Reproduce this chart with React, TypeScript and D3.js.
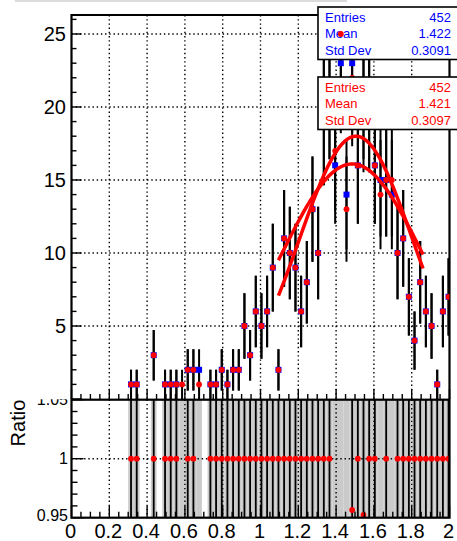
import * as React from "react";
import * as d3 from "d3";

// histogram binning: bins of 0.03 starting at 0
const binWidth = 0.03;

// h1 (blue squares) counts per bin, bin 0 = [0, 0.03)
const countsBlue = [
  0, 0, 0, 0, 0, 0, 0, 0, 0, 0,
  1, 1, 0, 0, 3, 0, 1, 1, 1, 0,
  2, 2, 2, 0, 1, 1, 2, 1, 2, 2,
  5, 3, 6, 5, 6, 9, 2, 11, 10, 9,
  6, 8, 13, 10, 19, 21, 16, 23, 14, 23,
  16, 21, 20, 16, 15, 15, 14, 10, 11, 7,
  4, 8, 6, 5, 1, 6, 7,
];

// h2 (red circles) counts per bin
const countsRed = [
  0, 0, 0, 0, 0, 0, 0, 0, 0, 0,
  1, 1, 0, 0, 3, 0, 1, 1, 1, 1,
  2, 2, 1, 0, 1, 1, 2, 1, 2, 2,
  5, 3, 6, 5, 6, 9, 2, 11, 10, 9,
  6, 8, 13, 10, 19, 21, 17, 25, 13, 22,
  16, 20, 20, 16, 14, 15, 15, 10, 11, 7,
  4, 8, 6, 5, 1, 6, 7,
];

const statsBlue = [
  ["Entries", "452"],
  ["Mean", "1.422"],
  ["Std Dev", "0.3091"],
];
const statsRed = [
  ["Entries", "452"],
  ["Mean", "1.421"],
  ["Std Dev", "0.3097"],
];

// gaussian fits: amplitude, mean, sigma
const fitAmp = [18.0, 16.1];
const fitMean = [1.505, 1.485];
const fitSigma = [0.3, 0.38];
const fitRange = [1.095, 1.86];

const xTickLabels = ["0", "0.2", "0.4", "0.6", "0.8", "1", "1.2", "1.4", "1.6", "1.8", "2"];
const yTickLabels = ["5", "10", "15", "20", "25"];
const ratioTickLabels = ["0.95", "1", "1.05"];

const W = 457;
const H = 541;
const X0 = 71.5;
const X1 = 449.5;
const TOP0 = 15;
const TOP1 = 399;
const RAT0 = 399.7;
const RAT1 = 517.7;
const FONT = "'Liberation Sans', Arial, sans-serif";

const x = d3.scaleLinear().domain([0, 2]).range([X0, X1]);
const yTop = d3.scaleLinear().domain([0, 26.3]).range([TOP1, TOP0]);
const yRat = d3.scaleLinear().domain([0.95, 1.05]).range([RAT1, RAT0]);

const grid = { stroke: "#000", strokeWidth: 1.4, strokeDasharray: "1.4 2.8" };
const center = (i: number) => (i + 0.5) * binWidth;

function StatsBox({ y, rows, color }: { y: number; rows: string[][]; color: string }) {
  return (
    <g>
      <rect x={318} y={y} width={150} height={52.5} fill="#fff" stroke="#000" strokeWidth={1.6} />
      {rows.map((r, i) => (
        <g key={i} fontFamily={FONT} fontSize={13} fill={color}>
          <text x={325} y={y + 14.5 + i * 16.6}>{r[0]}</text>
          <text x={451} y={y + 14.5 + i * 16.6} textAnchor="end">{r[1]}</text>
        </g>
      ))}
    </g>
  );
}

export default function App() {
  const fitLine = d3
    .line<number>()
    .x((d) => x(d))
    .curve(d3.curveLinear);
  const fitXs = d3.range(fitRange[0], fitRange[1] + 1e-9, (fitRange[1] - fitRange[0]) / 100);

  const errBars = (counts: number[]) =>
    counts.map((v, i) =>
      v > 0 ? (
        <line
          key={i}
          x1={x(center(i))}
          x2={x(center(i))}
          y1={yTop(Math.max(0, v - Math.sqrt(v)))}
          y2={yTop(v + Math.sqrt(v))}
          stroke="#000"
          strokeWidth={2}
        />
      ) : null
    );

  const ratios = countsBlue.map((b, i) => {
    const r = countsRed[i];
    if (b <= 0 || r <= 0) return null;
    const v = r / b;
    return { i, v, e: v * Math.sqrt(1 / r + 1 / b) };
  });

  const xMajor = d3.range(0, 2.0001, 0.2);
  const xMinor = d3.range(0, 2.0001, 0.05);
  const yMajor = d3.range(0, 26.3, 5);
  const yMinor = d3.range(0, 26.3, 1);
  const rMajor = [0.95, 1, 1.05];
  const rMinor = d3.range(0.95, 1.0501, 0.01);

  return (
    <svg width={W} height={H} style={{ position: "absolute", left: 0, top: 0, background: "#fff" }}>
      <defs>
        <clipPath id="clipTop">
          <rect x={X0} y={TOP0} width={X1 - X0} height={TOP1 - TOP0} />
        </clipPath>
        <clipPath id="clipRat">
          <rect x={X0} y={RAT0} width={X1 - X0} height={RAT1 - RAT0} />
        </clipPath>
        <clipPath id="clipRatLab">
          <rect x={0} y={RAT0 - 0.5} width={X0} height={H} />
        </clipPath>
      </defs>
      <rect width={W} height={H} fill="#fff" />
      <line x1={15} x2={347} y1={1} y2={1} stroke="#cfcfcf" strokeWidth={1.5} />

      {/* ---------- upper pad ---------- */}
      <g>
        {xMajor.slice(1, -1).map((t, i) => (
          <line key={"gx" + i} x1={x(t)} x2={x(t)} y1={TOP0} y2={TOP1} {...grid} />
        ))}
        {yMajor.slice(1).map((t, i) => (
          <line key={"gy" + i} x1={X0} x2={X1} y1={yTop(t)} y2={yTop(t)} {...grid} />
        ))}
      </g>
      <g clipPath="url(#clipTop)">
        {errBars(countsBlue)}
        {errBars(countsRed)}
        {countsBlue.map((v, i) =>
          v > 0 ? (
            <rect key={i} x={x(center(i)) - 3} y={yTop(v) - 3} width={6} height={6} fill="#0000ff" />
          ) : null
        )}
      </g>

      {/* upper pad ticks and frame (under the stats boxes) */}
      <g stroke="#000" strokeWidth={1.4}>
        {yMinor.map((t, i) => (
          <line key={"ym" + i} x1={X0} x2={X0 + (t % 5 === 0 ? 10 : 5)} y1={yTop(t)} y2={yTop(t)} />
        ))}
        {xMinor.map((t, i) => (
          <line
            key={"xm" + i}
            x1={x(t)}
            x2={x(t)}
            y1={TOP1}
            y2={TOP1 - (i % 4 === 0 ? 10 : 5)}
          />
        ))}
      </g>
      <path
        d={`M${X0},${TOP1}V${TOP0}H${X1}V${TOP1}`}
        fill="none"
        stroke="#000"
        strokeWidth={2.2}
      />

      <StatsBox y={7} rows={statsBlue} color="#0000ff" />
      <g clipPath="url(#clipTop)">
        {countsRed.map((v, i) =>
          v > 0 ? <circle key={i} cx={x(center(i))} cy={yTop(v)} r={2.9} fill="#ff0000" /> : null
        )}
        {fitAmp.map((a, k) => (
          <path
            key={k}
            d={
              fitLine.y((d) =>
                yTop(a * Math.exp(-((d - fitMean[k]) ** 2) / (2 * fitSigma[k] ** 2)))
              )(fitXs) || ""
            }
            fill="none"
            stroke="#ff0000"
            strokeWidth={3.5}
          />
        ))}
      </g>
      <StatsBox y={77} rows={statsRed} color="#ff0000" />

      <g fontFamily={FONT} fontSize={20} fill="#000" textAnchor="end">
        {yTickLabels.map((l, i) => (
          <text key={i} x={66} y={yTop(yMajor[i + 1])} dy="0.36em">
            {l}
          </text>
        ))}
      </g>

      {/* ---------- ratio pad ---------- */}
      <g clipPath="url(#clipRat)">
        {countsBlue.map((b, i) => {
          const n = Math.max(b, countsRed[i]);
          if (n <= 0) return null;
          const e = 1 / Math.sqrt(n);
          return (
            <rect
              key={i}
              x={x(i * binWidth)}
              width={x((i + 1) * binWidth) - x(i * binWidth)}
              y={yRat(1 + e)}
              height={yRat(1 - e) - yRat(1 + e)}
              fill="#cacaca"
            />
          );
        })}
        {xMajor.slice(1, -1).map((t, i) => (
          <line key={"rgx" + i} x1={x(t)} x2={x(t)} y1={RAT0} y2={RAT1} {...grid} />
        ))}
        <line x1={X0} x2={X1} y1={yRat(1)} y2={yRat(1)} {...grid} />
        {ratios.map((r) =>
          r && r.v >= 0.95 && r.v <= 1.05 ? (
            <g key={r.i}>
              <line
                x1={x(center(r.i))}
                x2={x(center(r.i))}
                y1={yRat(r.v - r.e)}
                y2={yRat(r.v + r.e)}
                stroke="#000"
                strokeWidth={1.8}
              />
              <circle cx={x(center(r.i))} cy={yRat(r.v)} r={2.9} fill="#ff0000" />
            </g>
          ) : null
        )}
      </g>
      <g stroke="#000" strokeWidth={1.4}>
        {rMinor.map((t, i) => (
          <line key={"rm" + i} x1={X0} x2={X0 + (i % 5 === 0 ? 12 : 6)} y1={yRat(t)} y2={yRat(t)} />
        ))}
        {xMinor.map((t, i) => (
          <line
            key={"rxm" + i}
            x1={x(t)}
            x2={x(t)}
            y1={RAT1}
            y2={RAT1 - (i % 4 === 0 ? 12 : 6)}
          />
        ))}
      </g>
      <rect x={X0} y={RAT0} width={X1 - X0} height={RAT1 - RAT0} fill="none" stroke="#000" strokeWidth={2.2} />
      <g fontFamily={FONT} fontSize={16} fill="#000" textAnchor="end" clipPath="url(#clipRatLab)">
        {ratioTickLabels.map((l, i) => (
          <text key={i} x={68} y={yRat(rMajor[i])} dy={i === 0 ? "0.2em" : "0.36em"}>
            {l}
          </text>
        ))}
      </g>
      <g fontFamily={FONT} fontSize={20} fill="#000" textAnchor="middle">
        {xTickLabels.map((l, i) => (
          <text key={i} x={x(xMajor[i]) - 1} y={537.5}>
            {l}
          </text>
        ))}
      </g>
      <text
        transform={`translate(25,${RAT0}) rotate(-90)`}
        textAnchor="end"
        fontFamily={FONT}
        fontSize={20}
        fill="#000"
      >
        Ratio
      </text>
    </svg>
  );
}
